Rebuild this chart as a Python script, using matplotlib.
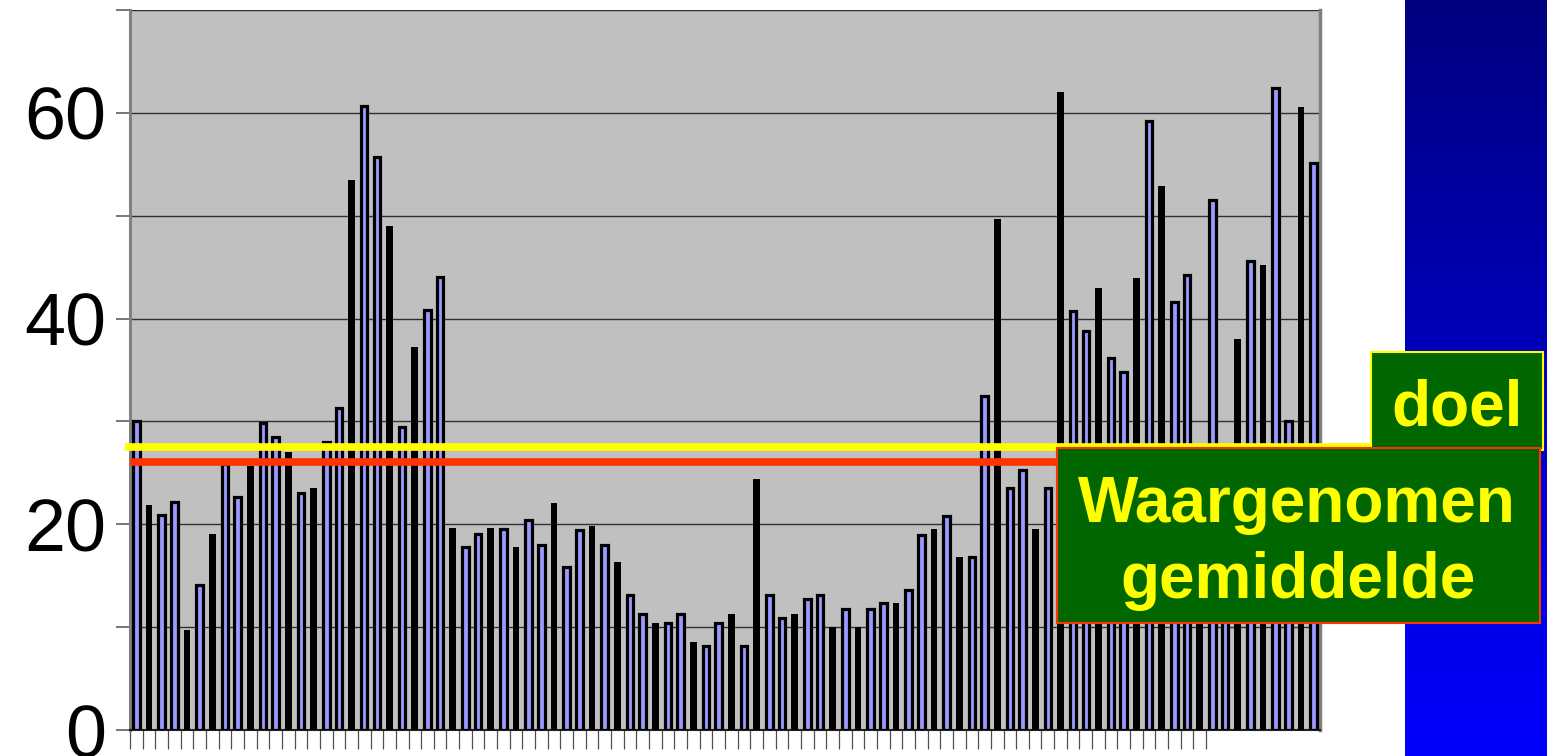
import numpy as np
import matplotlib
matplotlib.use("Agg")
import matplotlib.pyplot as plt
import matplotlib.transforms as mtransforms
from matplotlib.patches import Rectangle

# Weekly values per category
values = [
    30.0, 21.9, 20.9, 22.2, 9.7, 14.1, 19.1, 25.9, 22.7, 25.7,
    29.8, 28.5, 27.0, 23.0, 23.5, 28.0, 31.3, 53.5, 60.7, 55.7,
    49.0, 29.5, 37.2, 40.8, 44.0, 19.6, 17.8, 19.1, 19.6, 19.5,
    17.8, 20.4, 18.0, 22.1, 15.8, 19.4, 19.8, 18.0, 16.3, 13.1,
    11.3, 10.4, 10.4, 11.3, 8.6, 8.2, 10.4, 11.3, 8.2, 24.4,
    13.1, 10.9, 11.3, 12.7, 13.1, 10.0, 11.8, 10.0, 11.8, 12.3,
    12.3, 13.6, 19.0, 19.5, 20.8, 16.8, 16.8, 32.5, 49.7, 23.5,
    25.3, 19.5, 23.5, 62.0, 40.7, 38.8, 43.0, 36.2, 34.8, 43.9,
    59.2, 52.9, 41.6, 44.2, 24.0, 51.5, 21.0, 38.0, 45.6, 45.2,
    62.4, 30.0, 60.6, 55.1,
]

# Bars that render as solid dark columns
dark_bars = [1, 4, 6, 9, 12, 14, 17, 20, 22, 25, 28, 30, 33, 36, 38, 41, 44,
             47, 49, 52, 55, 57, 60, 63, 65, 68, 71, 73, 76, 79, 81, 84, 87,
             89, 92]

doel = 27.5          # target level
gemiddelde = 26.1    # observed mean

y_ticks = [0, 10, 20, 30, 40, 50, 60, 70]
y_labels = ["0", "", "20", "", "40", "", "60", ""]
n_ticked = 86        # category boundaries that carry a tick mark

label_doel = "doel"
label_gem = ["Waargenomen", "gemiddelde"]

W, H = 1547, 756
fig = plt.figure(figsize=(W / 100, H / 100), dpi=100)
fig.patch.set_facecolor("white")


def fx(px):
    return px / W


def fy(py):
    return 1 - py / H


ax = fig.add_axes([fx(130), 26 / H, 1190 / W, 720 / H])
ax.set_facecolor("#C0C0C0")

n = len(values)
x = np.arange(n)
vals = np.array(values)
is_dark = np.zeros(n, dtype=bool)
is_dark[dark_bars] = True

ax.bar(x[~is_dark], vals[~is_dark], width=0.52, color="#9999FF",
       edgecolor="black", linewidth=2.3, zorder=3)
ax.bar(x[is_dark], vals[is_dark], width=0.53, color="black",
       edgecolor="none", linewidth=0, zorder=3)

ax.set_xlim(-0.5, n - 0.5)
ax.set_ylim(0, 70)
ax.set_yticks(y_ticks)
ax.set_yticklabels(y_labels, fontsize=53, family="Liberation Sans")
ax.yaxis.grid(True, color="#303030", linewidth=1.0, zorder=1)
ax.set_axisbelow(True)

ax.set_xticks(np.arange(n_ticked) - 0.5)
ax.set_xticklabels([])
ax.tick_params(axis="x", direction="out", length=14, width=0.9,
               color="#505050")
ax.tick_params(axis="y", direction="out", length=10, width=1.2,
               color="#606060", pad=7)

ax.spines["top"].set_visible(False)
ax.spines["left"].set_color("#808080")
ax.spines["left"].set_linewidth(2.2)
ax.spines["right"].set_color("#808080")
ax.spines["right"].set_linewidth(2.5)
ax.spines["bottom"].set_color("#202020")
ax.spines["bottom"].set_linewidth(1.5)

# Target and mean lines
trans = mtransforms.blended_transform_factory(ax.transAxes, ax.transData)
ax.plot([-0.004, 1.043], [doel, doel], color="#FFFF00", linewidth=5.5,
        transform=trans, clip_on=False, solid_capstyle="butt", zorder=5)
ax.plot([0.0, 0.8], [gemiddelde, gemiddelde], color="#FF3300",
        linewidth=5.5, transform=trans, clip_on=False,
        solid_capstyle="butt", zorder=5)

# Blue gradient panel on the right
gax = fig.add_axes([fx(1405), 0, 142 / W, 1])
grad = np.zeros((256, 1, 3))
grad[:, 0, 2] = np.linspace(0.5, 1.0, 256)
gax.imshow(grad, aspect="auto", interpolation="bilinear")
gax.set_axis_off()

# Label boxes
fig.add_artist(Rectangle((fx(1371), fy(450)), 172 / W, 98 / H,
                         transform=fig.transFigure, facecolor="#006600",
                         edgecolor="#FFFF00", linewidth=1.5, zorder=5))
fig.add_artist(Rectangle((fx(1057), fy(623)), 483 / W, 175 / H,
                         transform=fig.transFigure, facecolor="#006600",
                         edgecolor="#FF3300", linewidth=1.5, zorder=6))

txt_kw = dict(ha="center", va="baseline", fontsize=46, fontweight="bold",
              color="#FFFF00", family="Liberation Sans")
fig.text(fx(1457), fy(425), label_doel, zorder=7, **txt_kw)
fig.text(fx(1297), fy(522), label_gem[0], zorder=7, **txt_kw)
fig.text(fx(1298), fy(598), label_gem[1], zorder=7, **txt_kw)

fig.savefig("out.png", dpi=100)
